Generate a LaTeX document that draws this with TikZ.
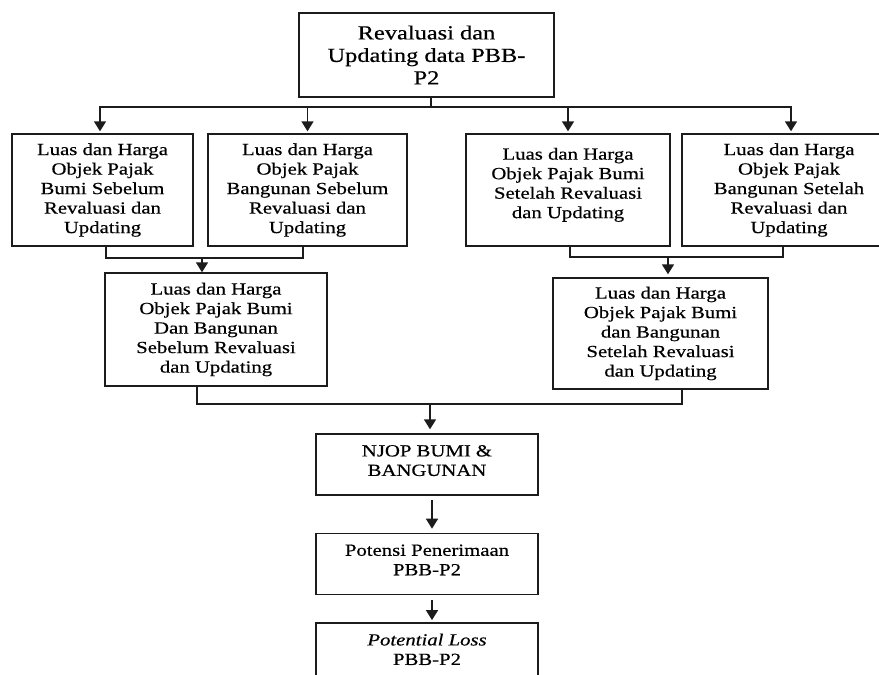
\documentclass[tikz,border=0pt]{standalone}
\usepackage{fontspec}
\setmainfont{Liberation Serif}[FakeStretch=1.22,FakeBold=0.5]
\usetikzlibrary{arrows.meta,positioning,calc}
\definecolor{ink}{HTML}{1C1C1C}

\begin{document}
\begin{tikzpicture}[x=1pt,y=-1pt,
  font=\fontsize{17}{19.5}\selectfont,
  box/.style={draw=ink,line width=1.4pt,align=center,inner sep=4pt},
  line/.style={draw=ink,line width=1.6pt},
  arr/.style={line,-{Triangle[width=12pt,length=10pt]}}]
  \useasboundingbox (0,0) rectangle (879,675);
  \clip (0,0) rectangle (879,675);
  \node[box,minimum width=255pt,minimum height=84pt,
        font=\fontsize{20}{22.5}\selectfont] (rev) at (426.5,55)
    {Revaluasi dan\\Updating data PBB-\\P2};
  % before / after revaluation
  \node[box,minimum width=181pt,minimum height=112pt] (bumiA) at (102.5,190)
    {Luas dan Harga\\Objek Pajak\\Bumi Sebelum\\Revaluasi dan\\Updating};
  \node[box,minimum width=199pt,minimum height=112pt] (bangA) at (307.5,190)
    {Luas dan Harga\\Objek Pajak\\Bangunan Sebelum\\Revaluasi dan\\Updating};
  \node[box,minimum width=204pt,minimum height=112pt,text depth=14pt] (bumiB) at (568,190)
    {Luas dan Harga\\Objek Pajak Bumi\\Setelah Revaluasi\\dan Updating};
  \node[box,minimum width=214pt,minimum height=112pt] (bangB) at (789,190)
    {Luas dan Harga\\Objek Pajak\\Bangunan Setelah\\Revaluasi dan\\Updating};
  \node[box,minimum width=222pt,minimum height=113pt] (sebelum) at (216,329.5)
    {Luas dan Harga\\Objek Pajak Bumi\\Dan Bangunan\\Sebelum Revaluasi\\dan Updating};
  \node[box,minimum width=215pt,minimum height=111pt] (setelah) at (660.5,333.5)
    {Luas dan Harga\\Objek Pajak Bumi\\dan Bangunan\\Setelah Revaluasi\\dan Updating};
  % result chain
  \node[box,minimum width=222pt,minimum height=61pt,text depth=8pt] (njop) at (427,464.5)
    {NJOP BUMI \&\\BANGUNAN};
  \node[box,minimum width=222pt,minimum height=61pt,text depth=8pt,below=37pt of njop] (potensi)
    {Potensi Penerimaan\\PBB-P2};
  \node[box,minimum width=222pt,minimum height=61pt,text depth=8pt,below=27pt of potensi] (loss)
    {\textit{Potential Loss}\\PBB-P2};

  \coordinate (t) at (431,107);
  \draw[line] (rev.south -| t) -- (t);
  \draw[arr,shorten >=2pt] (t) -| ([xshift=-2.5pt]bumiA.north);
  \draw[arr,shorten >=2pt] (t) -| (bangA.north);
  \draw[arr,shorten >=2pt] (t) -| (bumiB.north);
  \draw[arr,shorten >=2pt] (t) -| ([xshift=2pt]bangB.north);

  \coordinate (j1) at (202,258);
  \draw[line] ([xshift=3.5pt]bumiA.south) |- (j1) -| ([xshift=-4.5pt]bangA.south);
  \draw[arr] (j1) -- (j1 |- sebelum.north);
  \coordinate (j2) at (668,257);
  \draw[line] ([xshift=2pt]bumiB.south) |- (j2) -| ([xshift=-6pt]bangB.south);
  \draw[arr,shorten >=3pt] (j2) -- (j2 |- setelah.north);

  \coordinate (j3) at (430,404);
  \draw[line] ([xshift=-19pt]sebelum.south) |- (j3) -| ([xshift=21.5pt]setelah.south);
  \draw[arr,shorten >=4pt] (j3) -- (j3 |- njop.north);
  \draw[arr,shorten <=4pt,shorten >=4pt] ([xshift=5pt]njop.south) -- ([xshift=5pt]potensi.north);
  \draw[arr,shorten <=5pt,shorten >=2pt] ([xshift=5pt]potensi.south) -- ([xshift=5pt]loss.north);
\end{tikzpicture}
\end{document}
